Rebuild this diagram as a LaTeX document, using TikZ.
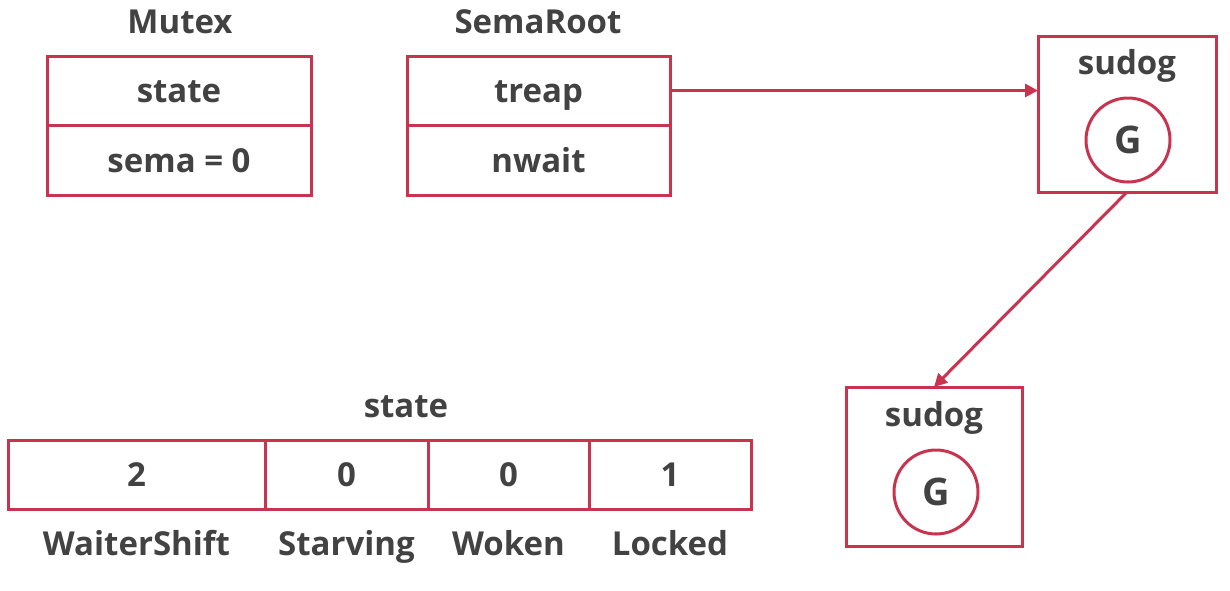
\documentclass[tikz,border=0pt]{standalone}
\usepackage{fontspec}
\setmainfont{Open Sans}
\usepackage{xcolor}
\usetikzlibrary{arrows.meta, positioning}

\definecolor{boxred}{RGB}{200,52,80}
\definecolor{txtgray}{RGB}{66,66,66}

\tikzset{
    cell/.style={draw=boxred, line width=3pt, outer sep=0pt, inner sep=0pt, text height=31pt, text depth=7pt, text=txtgray, font=\fontsize{33}{39}\selectfont\bfseries},
    title/.style={text=txtgray, font=\fontsize{33}{39}\selectfont\bfseries},
    gnode/.style={circle, draw=boxred, line width=3pt, minimum size=84pt, inner sep=0pt, text=txtgray, font=\fontsize{38}{44}\selectfont\bfseries},
    link/.style={draw=boxred, line width=3pt, -{Triangle[length=13pt,width=13pt]}}
}

\begin{document}
\begin{tikzpicture}[x=1pt, y=-1pt]
                \useasboundingbox (0,0) rectangle (1230,590);

                % Mutex
                \node[title] (mutextitle) at (180,22) {Mutex};
                \node[cell, minimum width=264pt, minimum height=69pt] (mstate) at (179,90.5) {state};
                \node[cell, minimum width=264pt, minimum height=70pt] (msema) at (179,160) {sema = 0};

                % SemaRoot
                \node[title] (roottitle) at (538,22) {SemaRoot};
                \node[cell, minimum width=263pt, minimum height=69pt] (treap) at (538.5,90.5) {treap};
                \node[cell, minimum width=263pt, minimum height=70pt] (nwait) at (538.5,160) {nwait};

                % sudog queue
                \node[cell, minimum width=178pt, minimum height=156pt] (sudogA) at (1127,114) {};
                \node[title] (sudogAlbl) at (1127,66) {sudog};
                \node[gnode] (gA) at (1128,140) {G};

                \node[cell, minimum width=176pt, minimum height=159pt] (sudogB) at (934,466.5) {};
                \node[title] (sudogBlbl) at (934,418) {sudog};
                \node[gnode] (gB) at (936,492) {G};

                \draw[link] (treap.east) -- (sudogA.west |- treap.east);
                \draw[link] (sudogA.south) -- (sudogB.north);

                % state bits
                \node[title] (statetitle) at (406,407) {state};
                \foreach \name/\cx/\w/\val/\lbl in {ws/136.5/257/2/WaiterShift, st/346.5/163/0/Starving, wo/508.5/161/0/Woken, lo/670/162/1/Locked}
                {
                    \node[cell, minimum width=\w pt, minimum height=69pt] (\name) at (\cx,474.5) {\val};
                    \node[title, below=18pt of \name] (\name lbl) {\lbl};
                }
\end{tikzpicture}
\end{document}
